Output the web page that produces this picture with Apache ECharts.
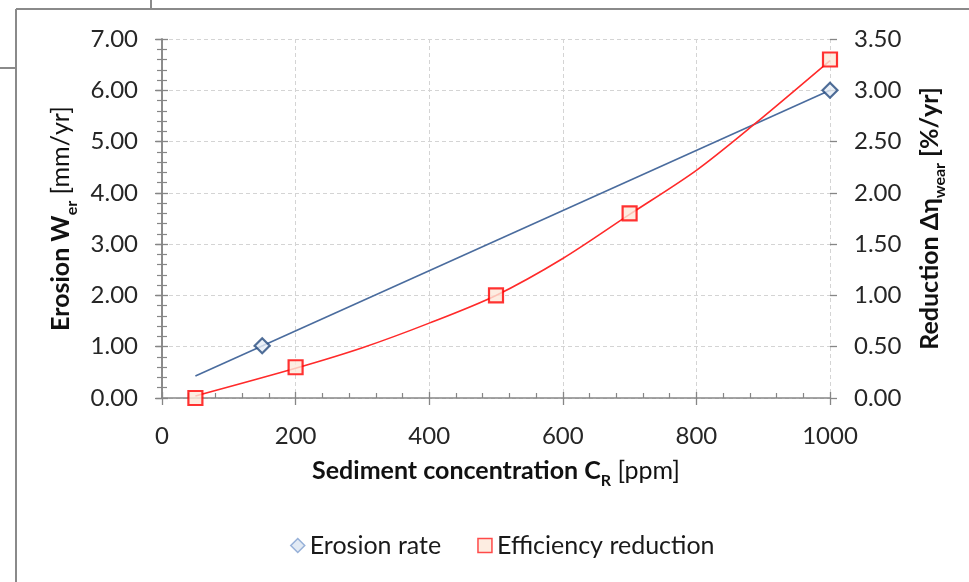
<!DOCTYPE html>
<html>
<head>
<meta charset="utf-8">
<script src="https://cdn.jsdelivr.net/npm/echarts@6/dist/echarts.min.js"></script>
<style>
html,body{margin:0;padding:0;background:#fff;}
#c{width:969px;height:582px;}
</style>
</head>
<body>
<div id="c"></div>
<script>
// ---- data ----
const erosionX = [150, 1000];
const erosionY = [1.02, 6.0];
const erosionTrendX = [50, 1000];
const erosionTrendY = [0.43, 6.0];
const effX = [50, 200, 500, 700, 1000];
const effY = [0.0, 0.3, 1.0, 1.8, 3.3];
// fitted curve drawn in the reference
const effTrendX = [50, 200, 300, 400, 500, 600, 700, 800, 885, 1000];
const effTrendY = [0.02, 0.29, 0.49, 0.73, 1.0, 1.36, 1.79, 2.22, 2.66, 3.29];
const seriesNames = ['Erosion rate', 'Efficiency reduction'];

const zip = (a, b) => a.map((v, i) => [v, b[i]]);
const FONT = 'Lato';
const AX = '#868686';
const TF = 25;   // title font size
const SF = 16;   // subscript font size

const richTitle = {
  b: {fontFamily: FONT, fontSize: TF, fontWeight: 'bold', color: '#111', lineHeight: 30, verticalAlign: 'bottom'},
  bs: {fontFamily: FONT, fontSize: SF, fontWeight: 'bold', color: '#111', lineHeight: 20, verticalAlign: 'bottom', padding: [0, 0, -6, 0]},
  n: {fontFamily: FONT, fontSize: TF, color: '#111', lineHeight: 30, verticalAlign: 'bottom'}
};

const chart = echarts.init(document.getElementById('c'), null, {renderer: 'canvas'});

const tickAxisCommon = {
  axisLine: {show: false}, axisLabel: {show: false}, splitLine: {show: false},
  axisTick: {show: true, inside: false, length: 7, lineStyle: {color: AX, width: 1.3}}
};

chart.setOption({
  backgroundColor: '#fff',
  animation: false,
  textStyle: {fontFamily: FONT},
  grid: {left: 162, right: 139, top: 39, bottom: 184, containLabel: false},
  legend: {
    bottom: 19, left: 285,
    itemWidth: 14, itemHeight: 14, itemGap: 36,
    textStyle: {fontFamily: FONT, fontSize: 25, color: '#1a1a1a'},
    data: [
      {name: seriesNames[0], icon: 'diamond', itemStyle: {color: '#dbe5f1', borderColor: '#7f9fcf', borderWidth: 1.5}},
      {name: seriesNames[1], icon: 'rect', itemStyle: {color: '#fde9d9', borderColor: '#ff1f1f', borderWidth: 1.5}}
    ]
  },
  xAxis: [{
    type: 'value', min: 0, max: 1000, interval: 200, position: 'bottom',
    axisLine: {show: true, onZero: false, lineStyle: {color: AX, width: 1.5}},
    axisTick: {show: true, inside: true, length: 6, lineStyle: {color: AX, width: 1.3}},
    minorTick: {show: true, splitNumber: 5, length: 5, lineStyle: {color: AX, width: 1.2}},
    axisLabel: {fontSize: 24, color: '#262626', margin: 26, fontFamily: FONT, formatter: v => String(v)},
    splitLine: {show: true, lineStyle: {type: [4, 3], color: '#d4d4d4', width: 1}},
    name: '{b|Sediment concentration C}{bs|R}{n| [ppm]}',
    nameLocation: 'middle', nameGap: 55,
    nameTextStyle: {fontFamily: FONT, fontSize: TF, color: '#111', rich: richTitle}
  }, {
    type: 'value', min: 0, max: 1000, interval: 200, position: 'bottom', ...tickAxisCommon
  }],
  yAxis: [{
    type: 'value', min: 0, max: 7, interval: 1, position: 'left',
    axisLine: {show: true, lineStyle: {color: AX, width: 1.5}},
    axisTick: {show: true, inside: true, length: 6, lineStyle: {color: AX, width: 1.3}},
    minorTick: {show: true, splitNumber: 5, length: 5, lineStyle: {color: AX, width: 1.2}},
    axisLabel: {fontSize: 24, color: '#262626', margin: 24, fontFamily: FONT, formatter: v => v.toFixed(2)},
    splitLine: {show: true, lineStyle: {type: [4, 3], color: '#d4d4d4', width: 1}},
    name: '{b|Erosion W}{bs|er}{n| [mm/yr]}',
    nameLocation: 'middle', nameGap: 73, nameRotate: 90,
    nameTextStyle: {fontFamily: FONT, fontSize: TF, color: '#111', rich: richTitle}
  }, {
    type: 'value', min: 0, max: 3.5, interval: 0.5, position: 'right',
    axisLine: {show: true, lineStyle: {color: AX, width: 1.5}},
    axisTick: {show: true, inside: true, length: 6, lineStyle: {color: AX, width: 1.3}},
    minorTick: {show: true, splitNumber: 5, length: 5, lineStyle: {color: AX, width: 1.2}},
    axisLabel: {fontSize: 24, color: '#262626', margin: 24, fontFamily: FONT, formatter: v => v.toFixed(2)},
    splitLine: {show: false},
    name: '{b|Reduction Δη}{bs|wear}{b| [%/yr]}',
    nameLocation: 'middle', nameGap: 82, nameRotate: 90,
    nameTextStyle: {fontFamily: FONT, fontSize: TF, color: '#111', rich: richTitle}
  }, {
    type: 'value', min: 0, max: 7, interval: 1, position: 'left', ...tickAxisCommon
  }, {
    type: 'value', min: 0, max: 3.5, interval: 0.5, position: 'right', ...tickAxisCommon
  }],
  series: [{
    name: 'Erosion trend', type: 'line', xAxisIndex: 0, yAxisIndex: 0,
    data: zip(erosionTrendX, erosionTrendY), showSymbol: false, symbol: 'none',
    lineStyle: {color: '#4a6c9e', width: 1.6}, silent: true, z: 3
  }, {
    name: 'Efficiency trend', type: 'line', xAxisIndex: 0, yAxisIndex: 1,
    data: zip(effTrendX, effTrendY), showSymbol: false, symbol: 'none', smooth: 0.3,
    lineStyle: {color: '#ff2a2a', width: 1.6}, silent: true, z: 3
  }, {
    name: seriesNames[1], type: 'scatter', xAxisIndex: 0, yAxisIndex: 1,
    data: zip(effX, effY),
    symbol: 'rect', symbolSize: 14,
    itemStyle: {color: '#fde9d9', borderColor: '#ff0000', borderWidth: 2.2}, z: 4
  }, {
    name: seriesNames[0], type: 'scatter', xAxisIndex: 0, yAxisIndex: 0,
    data: zip(erosionX, erosionY),
    symbol: 'diamond', symbolSize: 15,
    itemStyle: {color: '#e6edf6', borderColor: '#244a7e', borderWidth: 2.2}, z: 5
  }],
  graphic: [
    {type: 'line', shape: {x1: 16, y1: 9, x2: 969, y2: 9}, style: {stroke: '#8a8a8a', lineWidth: 2}},
    {type: 'line', shape: {x1: 16, y1: 9, x2: 16, y2: 582}, style: {stroke: '#8a8a8a', lineWidth: 2}},
    {type: 'line', shape: {x1: 151, y1: 0, x2: 151, y2: 9}, style: {stroke: '#8a8a8a', lineWidth: 2}},
    {type: 'line', shape: {x1: 0, y1: 68, x2: 16, y2: 68}, style: {stroke: '#8a8a8a', lineWidth: 2}}
  ]
});
</script>
</body>
</html>
